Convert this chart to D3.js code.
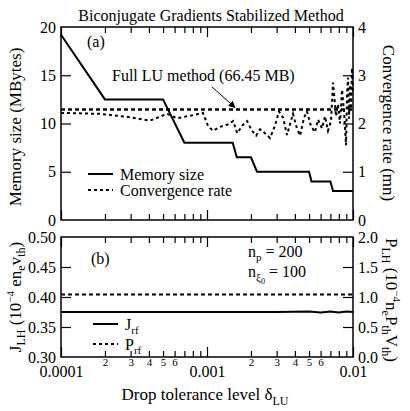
<!DOCTYPE html>
<html>
<head>
<meta charset="utf-8">
<script src="https://cdn.jsdelivr.net/npm/d3@7"></script>
<style>
  body { margin: 0; background: #fff; }
  .axis path { display: none; }
  .axis line { stroke: #000; stroke-width: 1.2; }
  .axis text { font-size: 16px; fill: #000; }
  .minor text { font-size: 11px; }
</style>
</head>
<body>
<div id="chart"></div>
<script>
// Drop tolerance vs memory size (MB, left axis, top panel)
var memDelta = [1e-4, 2e-4, 5e-4, 7e-4, 1.5e-3, 1.6e-3, 2e-3, 2.2e-3, 5e-3, 5.2e-3, 7e-3, 7.3e-3, 1e-2];
var memSize  = [19.2, 12.5, 12.5, 8.0, 8.0, 6.5, 6.5, 5.0, 5.0, 4.0, 4.0, 3.0, 3.0];

// Convergence rate (right axis, top panel)
var convDelta = [1.00e-4, 1.35e-4, 1.85e-4, 2.97e-4, 4.07e-4, 5.32e-4, 6.23e-4, 7.65e-4, 9.39e-4,
  1.016e-3, 1.10e-3, 1.23e-3, 1.39e-3, 1.51e-3, 1.61e-3, 1.76e-3, 1.88e-3, 2.03e-3, 2.17e-3,
  2.31e-3, 2.54e-3, 2.70e-3, 2.92e-3, 3.11e-3, 3.32e-3, 3.53e-3, 3.70e-3, 3.88e-3, 4.13e-3,
  4.34e-3, 4.62e-3, 4.84e-3, 5.15e-3, 5.49e-3, 5.76e-3, 6.13e-3, 6.43e-3, 6.74e-3, 7.07e-3,
  7.30e-3, 7.65e-3, 7.89e-3, 8.15e-3, 8.41e-3, 8.68e-3, 8.96e-3, 9.10e-3, 9.25e-3, 9.40e-3,
  9.54e-3, 9.70e-3, 9.84e-3, 1.0e-2];
var convRate = [2.22, 2.21, 2.20, 2.13, 2.06, 2.20, 2.11, 2.16, 2.22,
  1.95, 1.85, 1.93, 1.98, 2.05, 1.80, 1.97, 2.05, 1.85, 1.75,
  1.88, 1.78, 1.70, 1.95, 2.25, 2.12, 1.76, 1.98, 2.20, 1.90,
  1.75, 2.12, 2.25, 1.95, 1.82, 2.08, 1.90, 2.15, 1.85, 2.05,
  2.85, 2.15, 2.40, 2.00, 2.70, 2.25, 1.55, 2.60, 2.95, 2.10,
  2.80, 2.30, 3.15, 2.60];

// Full LU reference level (drawn against the rate axis)
var fullLURate = 2.29;

// Bottom panel: J_rf (left axis) and P_rf (right axis)
var jDelta = [1e-4, 3e-3, 5e-3, 6e-3, 7e-3, 8e-3, 9e-3, 1e-2];
var jRf    = [0.375, 0.375, 0.376, 0.374, 0.376, 0.374, 0.376, 0.375];
var pDelta = [1e-4, 1e-2];
var pRf    = [1.04, 1.04];

var memTicks = [0, 5, 10, 15, 20];
var rateTicks = [0, 1, 2, 3, 4];
var jTicks = [0.30, 0.35, 0.40, 0.45, 0.50];
var pTicks = [0.0, 0.5, 1.0, 1.5, 2.0];
var xMajor = [1e-4, 1e-3, 1e-2];
var xMajorLabels = ["0.0001", "0.001", "0.01"];

var W = 410, H = 411;
var L = 61, R = 353, top1 = 27, bot1 = 220, top2 = 237, bot2 = 357;
var FONT = "'Liberation Serif', 'Times New Roman', serif";

var svg = d3.select("#chart").append("svg").attr("width", W).attr("height", H);

var x = d3.scaleLog().domain([1e-4, 1e-2]).range([L, R]);
var yMem = d3.scaleLinear().domain([0, 20]).range([bot1, top1]);
var yRate = d3.scaleLinear().domain([0, 4]).range([bot1, top1]);
var yJ = d3.scaleLinear().domain([0.30, 0.50]).range([bot2, top2]);
var yP = d3.scaleLinear().domain([0, 2]).range([bot2, top2]);

var xMinor = [];
[1e-4, 1e-3].forEach(function (d) {
  for (var k = 2; k <= 9; k++) xMinor.push(d * k);
});

function xTicks(yPos, orient, labels) {
  var isBottom = orient === "bottom";
  var axis = (isBottom ? d3.axisBottom(x) : d3.axisTop(x))
    .tickValues(xMajor).tickSize(-10).tickPadding(labels ? 9 : 4)
    .tickFormat(function (d, i) { return labels ? xMajorLabels[i] : ""; });
  svg.append("g").attr("class", "axis").attr("transform", "translate(0," + yPos + ")").call(axis);
  var minor = (isBottom ? d3.axisBottom(x) : d3.axisTop(x))
    .tickValues(xMinor).tickSize(-6).tickPadding(labels ? 1 : 4)
    .tickFormat(function (d) {
      if (!labels) return "";
      var k = Math.round(d / Math.pow(10, Math.floor(Math.log10(d) + 1e-9)));
      return k <= 6 ? String(k) : "";
    });
  svg.append("g").attr("class", "axis minor").attr("transform", "translate(0," + yPos + ")").call(minor);
}

function yTicks(scale, ticks, xPos, orient, fmt) {
  var axis = (orient === "left" ? d3.axisLeft(scale) : d3.axisRight(scale))
    .tickValues(ticks).tickSize(-10).tickPadding(5).tickFormat(fmt);
  var g = svg.append("g").attr("class", "axis").attr("transform", "translate(" + xPos + ",0)").call(axis);
  // no tick marks at the frame corners
  g.selectAll(".tick line").filter(function (d) { return d === ticks[0] || d === ticks[ticks.length - 1]; }).remove();
}

// frames
[[top1, bot1], [top2, bot2]].forEach(function (p) {
  svg.append("rect").attr("x", L).attr("y", p[0]).attr("width", R - L).attr("height", p[1] - p[0])
    .attr("fill", "none").attr("stroke", "#000").attr("stroke-width", 1.5);
});

xTicks(top1, "top", false);
xTicks(bot1, "bottom", false);
xTicks(top2, "top", false);
xTicks(bot2, "bottom", true);

yTicks(yMem, memTicks, L, "left", d3.format("d"));
yTicks(yRate, rateTicks, R, "right", d3.format("d"));
yTicks(yJ, jTicks, L, "left", d3.format(".2f"));
yTicks(yP, pTicks, R, "right", d3.format(".1f"));

// top panel marks
var memLine = d3.line().x(function (d) { return x(d[0]); }).y(function (d) { return yMem(d[1]); });
var rateLine = d3.line().x(function (d) { return x(d[0]); }).y(function (d) { return yRate(d[1]); });

svg.append("path").datum(x.domain().map(function (d) { return [d, fullLURate]; }))
  .attr("d", rateLine).attr("fill", "none").attr("stroke", "#000")
  .attr("stroke-width", 2.6).attr("stroke-dasharray", "4,3");

svg.append("path").datum(convDelta.map(function (d, i) { return [d, convRate[i]]; }))
  .attr("d", rateLine).attr("fill", "none").attr("stroke", "#000")
  .attr("stroke-width", 2).attr("stroke-dasharray", "3,3");

svg.append("path").datum(memDelta.map(function (d, i) { return [d, memSize[i]]; }))
  .attr("d", memLine).attr("fill", "none").attr("stroke", "#000").attr("stroke-width", 2);

// bottom panel marks
svg.append("path").datum(jDelta.map(function (d, i) { return [d, jRf[i]]; }))
  .attr("d", d3.line().x(function (d) { return x(d[0]); }).y(function (d) { return yJ(d[1]); }))
  .attr("fill", "none").attr("stroke", "#000").attr("stroke-width", 2);
svg.append("path").datum(pDelta.map(function (d, i) { return [d, pRf[i]]; }))
  .attr("d", d3.line().x(function (d) { return x(d[0]); }).y(function (d) { return yP(d[1]); }))
  .attr("fill", "none").attr("stroke", "#000").attr("stroke-width", 2).attr("stroke-dasharray", "4,3");

// arrow to the full LU line
svg.append("defs").append("marker").attr("id", "arr").attr("viewBox", "0 0 10 10")
  .attr("refX", 9).attr("refY", 5).attr("markerWidth", 7).attr("markerHeight", 7)
  .attr("orient", "auto").append("path").attr("d", "M0,0L10,5L0,10z").attr("fill", "#000");
svg.append("line").attr("x1", 212).attr("y1", 87).attr("x2", 235).attr("y2", yRate(fullLURate) - 2)
  .attr("stroke", "#000").attr("stroke-width", 1).attr("marker-end", "url(#arr)");

function txt(xp, yp, s, size, anchor) {
  return svg.append("text").attr("x", xp).attr("y", yp).attr("font-size", size || 16)
    .attr("text-anchor", anchor || "start").text(s);
}

txt(211, 21, "Biconjugate Gradients Stabilized Method", 16, "middle");
txt(87, 47, "(a)", 16);
txt(91, 264, "(b)", 16);
txt(112, 81, "Full LU method (66.45 MB)", 16);

// legends
function legendItem(x1, yp, dashed) {
  svg.append("line").attr("x1", x1).attr("x2", x1 + 25).attr("y1", yp).attr("y2", yp)
    .attr("stroke", "#000").attr("stroke-width", 2).attr("stroke-dasharray", dashed ? "3,3" : null);
  return svg.append("text").attr("x", x1 + 32).attr("y", yp + 6).attr("font-size", 16);
}
legendItem(88, 174, false).text("Memory size");
legendItem(88, 190, true).text("Convergence rate");
var lj = legendItem(93, 324, false);
lj.append("tspan").text("J");
lj.append("tspan").attr("dy", 4).attr("font-size", 11).text("rf");
var lp = legendItem(93, 344, true);
lp.append("tspan").text("P");
lp.append("tspan").attr("dy", 4).attr("font-size", 11).text("rf");

var np = txt(248, 257, "", 16);
np.append("tspan").text("n");
np.append("tspan").attr("dy", 4).attr("font-size", 11).text("p");
np.append("tspan").attr("dy", -4).text(" = 200");
var nx = txt(248, 277, "", 16);
nx.append("tspan").text("n");
nx.append("tspan").attr("dy", 4).attr("font-size", 11).text("ξ");
nx.append("tspan").attr("dy", 3).attr("font-size", 8).text("0");
nx.append("tspan").attr("dy", -7).text(" = 100");

// axis titles
svg.append("text").attr("transform", "translate(21,127) rotate(-90)").attr("text-anchor", "middle")
  .attr("font-size", 17).text("Memory size (MBytes)");
svg.append("text").attr("transform", "translate(383,123) rotate(90)").attr("text-anchor", "middle")
  .attr("font-size", 17).text("Convergence rate (mn)");

var jl = svg.append("text").attr("transform", "translate(21,297) rotate(-90)").attr("text-anchor", "middle")
  .attr("font-size", 17);
jl.append("tspan").text("J");
jl.append("tspan").attr("dy", 4).attr("font-size", 12).text("LH");
jl.append("tspan").attr("dy", -4).text(" (10");
jl.append("tspan").attr("dy", -7).attr("font-size", 11).text("−4");
jl.append("tspan").attr("dy", 7).text(" en");
jl.append("tspan").attr("dy", 4).attr("font-size", 12).text("e");
jl.append("tspan").attr("dy", -4).text("v");
jl.append("tspan").attr("dy", 4).attr("font-size", 12).text("th");
jl.append("tspan").attr("dy", -4).text(")");

var pl = svg.append("text").attr("transform", "translate(386,300) rotate(90)").attr("text-anchor", "middle")
  .attr("font-size", 17);
pl.append("tspan").text("P");
pl.append("tspan").attr("dy", 4).attr("font-size", 12).text("LH");
pl.append("tspan").attr("dy", -4).text(" (10");
pl.append("tspan").attr("dy", -7).attr("font-size", 11).text("−4");
pl.append("tspan").attr("dy", 7).text("n");
pl.append("tspan").attr("dy", 4).attr("font-size", 12).text("e");
pl.append("tspan").attr("dy", -4).text("P");
pl.append("tspan").attr("dy", 4).attr("font-size", 12).text("th");
pl.append("tspan").attr("dy", -4).text("V");
pl.append("tspan").attr("dy", 4).attr("font-size", 12).text("th");
pl.append("tspan").attr("dy", -4).text(")");

var xl = txt(205, 400, "", 17, "middle");
xl.append("tspan").text("Drop tolerance level δ");
xl.append("tspan").attr("dy", 5).attr("font-size", 12).text("LU");

// serif face everywhere (d3 axes set sans-serif on their groups)
svg.selectAll("g.axis").attr("font-family", null);
svg.selectAll("text").style("font-family", FONT);
</script>
</body>
</html>
